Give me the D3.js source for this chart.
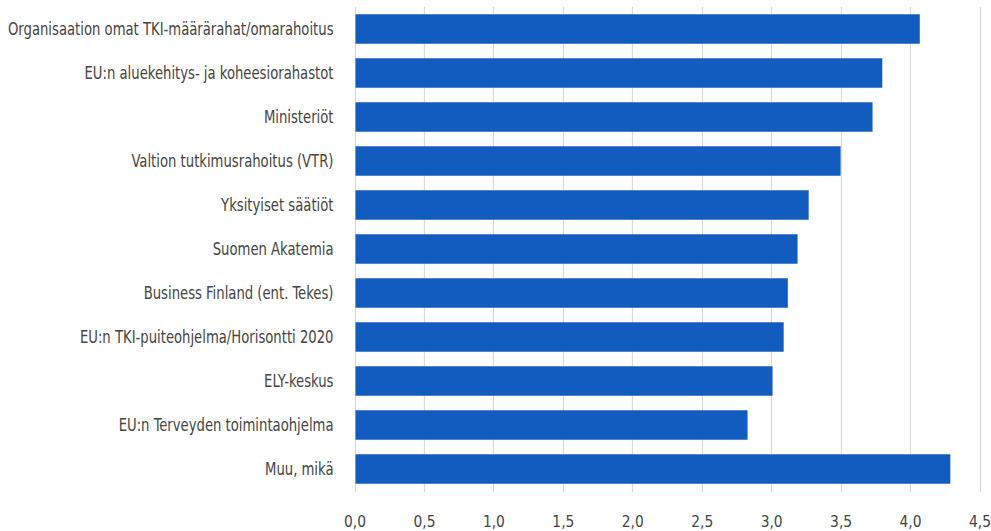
<!DOCTYPE html>
<html><head><meta charset="utf-8">
<script src="https://cdn.jsdelivr.net/npm/d3@7"></script>
<style>body{margin:0;background:#fff}</style>
</head><body>
<svg id="c" width="991" height="531"></svg>
<script>
const categories = [
  "Organisaation omat TKI-määrärahat/omarahoitus",
  "EU:n aluekehitys- ja koheesiorahastot",
  "Ministeriöt",
  "Valtion tutkimusrahoitus (VTR)",
  "Yksityiset säätiöt",
  "Suomen Akatemia",
  "Business Finland (ent. Tekes)",
  "EU:n TKI-puiteohjelma/Horisontti 2020",
  "ELY-keskus",
  "EU:n Terveyden toimintaohjelma",
  "Muu, mikä"
];
const values = [4.07, 3.80, 3.73, 3.50, 3.27, 3.19, 3.12, 3.09, 3.01, 2.83, 4.29];
const tickValues = [0, 0.5, 1, 1.5, 2, 2.5, 3, 3.5, 4, 4.5];

const svg = d3.select("#c");
const font = "'DejaVu Sans Condensed','DejaVu Sans',sans-serif";
const textColor = "#454545";
const x = d3.scaleLinear().domain([0, 4.5]).range([354.5, 979.5]);
const y = d3.scaleBand().domain(categories).range([7, 491]).paddingInner(0.33).paddingOuter(0.165);

// gridlines
svg.append("g").selectAll("line").data(tickValues).join("line")
  .attr("x1", d => Math.round(x(d)) + 0.5).attr("x2", d => Math.round(x(d)) + 0.5)
  .attr("y1", 7).attr("y2", 492)
  .attr("stroke", "#d9d9d9").attr("stroke-width", 1.2);

// bars
svg.append("g").selectAll("rect").data(values).join("rect")
  .attr("x", x(0) + 1)
  .attr("y", (d, i) => y(categories[i]))
  .attr("width", d => x(d) - x(0) - 1)
  .attr("height", y.bandwidth())
  .attr("fill", "#125cc0");

// x axis
const xAxis = d3.axisBottom(x).tickValues(tickValues)
  .tickFormat(d => d3.format(".1f")(d).replace(".", ","))
  .tickSize(0).tickPadding(0);
const gx = svg.append("g").attr("transform", "translate(0,527)").call(xAxis);
gx.select(".domain").remove();
const xt = gx.selectAll("text").attr("font-family", font).attr("font-size", 16)
  .attr("fill", textColor).attr("y", 0).attr("dy", 0);
const wx = xt.nodes()[0].getComputedTextLength();
const fx = 22 / wx;
xt.attr("transform", `scale(${fx},1)`);

// y axis
const yAxis = d3.axisLeft(y).tickSize(0).tickPadding(21);
const gy = svg.append("g").attr("transform", `translate(${x(0)},0)`).call(yAxis);
gy.select(".domain").remove();
const yt = gy.selectAll("text").attr("font-family", font).attr("font-size", 18).attr("fill", textColor);
const wy = yt.nodes()[0].getComputedTextLength();
const fy = 326 / wy;
yt.attr("x", -21 / fy).attr("transform", `scale(${fy},1)`);
</script>
</body></html>
